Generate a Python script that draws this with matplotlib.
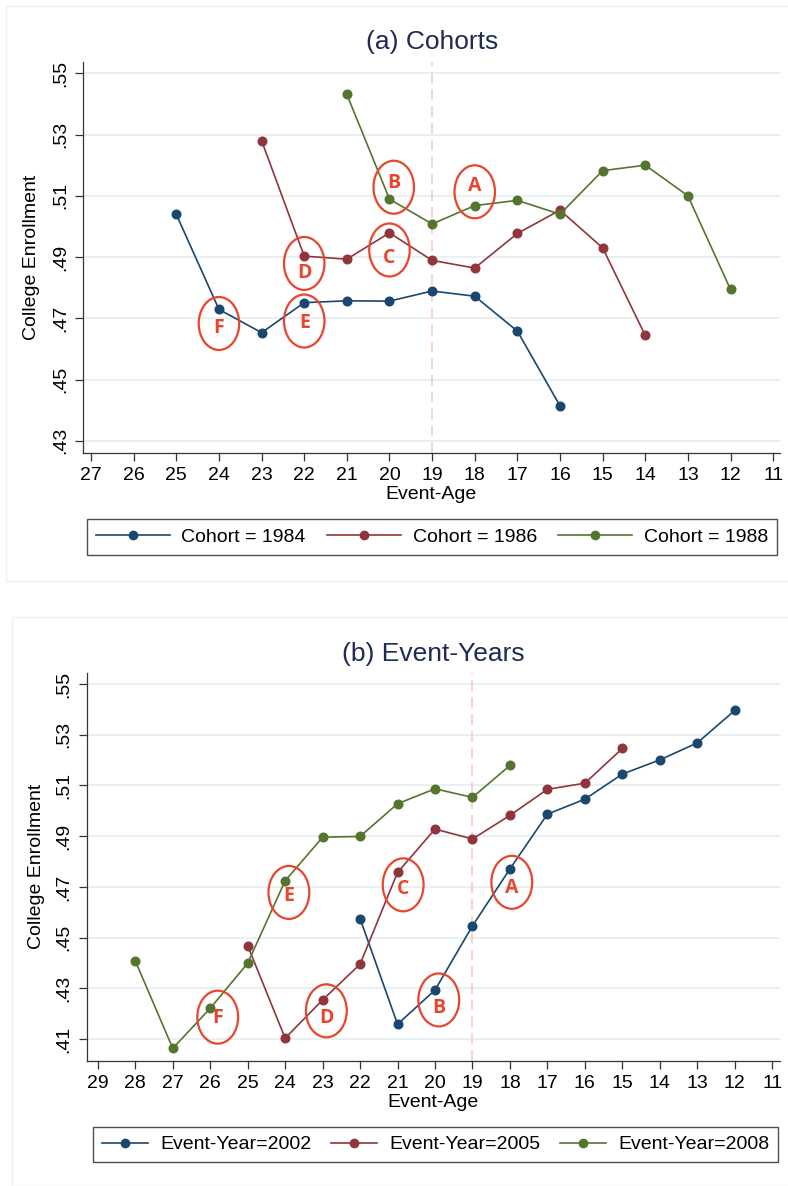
import matplotlib
matplotlib.use("Agg")
import matplotlib.pyplot as plt
from matplotlib.patches import Ellipse, Rectangle

plt.rcParams['font.family'] = ['Liberation Sans Narrow', 'Liberation Sans', 'DejaVu Sans']

# ---- panel (a): cohorts ----
ages_1984 = [25, 24, 23, 22, 21, 20, 19, 18, 17, 16]
enr_1984 = [.5039, .4729, .4653, .4751, .4757, .4756, .4789, .4772, .4658, .4414]
ages_1986 = [23, 22, 21, 20, 19, 18, 17, 16, 15, 14]
enr_1986 = [.5280, .4903, .4893, .4979, .4889, .4864, .4977, .5053, .4930, .4644]
ages_1988 = [21, 20, 19, 18, 17, 16, 15, 14, 13, 12]
enr_1988 = [.5431, .5089, .5008, .5068, .5085, .5040, .5182, .5200, .5100, .4794]

# ---- panel (b): event-years ----
ages_2002 = [22, 21, 20, 19, 18, 17, 16, 15, 14, 13, 12]
enr_2002 = [.4575, .4158, .4293, .4546, .4771, .4987, .5046, .5145, .5201, .5268, .5396]
ages_2005 = [25, 24, 23, 22, 21, 20, 19, 18, 17, 16, 15]
enr_2005 = [.4468, .4103, .4254, .4395, .4757, .4928, .4889, .4982, .5085, .5109, .5246]
ages_2008 = [28, 27, 26, 25, 24, 23, 22, 21, 20, 19, 18]
enr_2008 = [.4408, .4063, .4221, .4399, .4724, .4896, .4899, .5028, .5087, .5053, .5179]

# circled letters (label, x, y of ellipse centre, y of letter)
marks_a = [('A', 18.0, .5113, .5133), ('B', 19.9, .5128, .5141),
           ('C', 20.0, .4923, .4897), ('D', 22.0, .4879, .4848),
           ('E', 22.0, .4691, .4683), ('F', 24.0, .4683, .4668)]
marks_b = [('A', 17.95, .4718, .4697), ('B', 19.9, .4254, .4223),
           ('C', 20.85, .4708, .4690), ('D', 22.9, .4211, .4184),
           ('E', 23.9, .4678, .4663), ('F', 25.8, .4186, .4184)]

NAVY = '#1a476f'
MAROON = '#90353b'
GREEN = '#55752f'
RED = '#e8452f'
TITLE_COL = '#1f2a55'


def style_axes(ax, xticks, xlim, ylim, yticks):
    ax.set_xlim(*xlim)
    ax.set_ylim(*ylim)
    ax.set_xticks(xticks)
    ax.set_yticks(yticks)
    ax.set_yticklabels([('%.2f' % v)[1:] for v in yticks])
    for s in ['top', 'right']:
        ax.spines[s].set_visible(False)
    for s in ['left', 'bottom']:
        ax.spines[s].set_color('#333333')
        ax.spines[s].set_linewidth(0.9)
    ax.tick_params(axis='both', length=6, width=0.9, color='#333333',
                   labelsize=14, pad=4)
    ax.tick_params(axis='y', labelrotation=90)
    for lab in ax.get_yticklabels():
        lab.set_va('center')
    ax.grid(axis='y', color='#e6eff1', linewidth=1.3)
    ax.set_axisbelow(True)
    ax.axvline(19, color='#f6c4ca', linestyle=(0, (7, 4)), linewidth=1.1, zorder=1)
    ax.set_xlabel('Event-Age', fontsize=14, labelpad=2)
    ax.set_ylabel('College Enrollment', fontsize=14)


def add_marks(ax, marks, w, h):
    for lab, x, y, ty in marks:
        ax.add_patch(Ellipse((x, y), w, h, fill=False, edgecolor=RED,
                             linewidth=1.6, zorder=5))
        ax.text(x, ty, lab, color=RED, fontsize=14, fontweight='bold',
                family=['Open Sans', 'DejaVu Sans'], ha='center', va='center',
                zorder=6)


def draw_series(ax, x, y, color, label):
    ax.plot(x, y, color=color, linewidth=1.2, marker='o', markersize=6.2,
            label=label, zorder=3)


fig = plt.figure(figsize=(7.88, 11.86), dpi=100)

# faint panel frames
fig.add_artist(Rectangle((6 / 788, 1 - 581 / 1186), 790 / 788, 575 / 1186,
                         transform=fig.transFigure, fill=False,
                         edgecolor='#f0f0f0', linewidth=1))
fig.add_artist(Rectangle((12 / 788, 0), 790 / 788, 1 - 617 / 1186,
                         transform=fig.transFigure, fill=False,
                         edgecolor='#f0f0f0', linewidth=1))

ticks_y = [.43, .45, .47, .49, .51, .53, .55]
ax1 = fig.add_axes([0.1053, 0.6183, 0.8845, 0.3297])
draw_series(ax1, ages_1984, enr_1984, NAVY, 'Cohort = 1984')
draw_series(ax1, ages_1986, enr_1986, MAROON, 'Cohort = 1986')
draw_series(ax1, ages_1988, enr_1988, GREEN, 'Cohort = 1988')
style_axes(ax1, list(range(27, 10, -1)), (27.19, 10.84), (.4261, .5538), ticks_y)
ax1.yaxis.set_label_coords(-0.062, 0.5)
add_marks(ax1, marks_a, 0.95, .0173)
fig.text(432 / 788, 1 - 42 / 1186, '(a) Cohorts', ha='center', va='center',
         fontsize=19, color=TITLE_COL)

ticks_y2 = [.41, .43, .45, .47, .49, .51, .53, .55]
ax2 = fig.add_axes([0.1099, 0.1056, 0.880, 0.3272])
draw_series(ax2, ages_2002, enr_2002, NAVY, 'Event-Year=2002')
draw_series(ax2, ages_2005, enr_2005, MAROON, 'Event-Year=2005')
draw_series(ax2, ages_2008, enr_2008, GREEN, 'Event-Year=2008')
style_axes(ax2, list(range(29, 10, -1)), (29.3, 10.79), (.4014, .5545), ticks_y2)
ax2.yaxis.set_label_coords(-0.060, 0.5)
add_marks(ax2, marks_b, 1.09, .0209)
fig.text(433 / 788, 1 - 654 / 1186, '(b) Event-Years', ha='center', va='center',
         fontsize=19, color=TITLE_COL)

for ax, box, hl in [(ax1, (87, 518, 777, 556), 3.8), (ax2, (93, 1126, 778, 1163), 2.4)]:
    h, l = ax.get_legend_handles_labels()
    x0, y0, x1, y1 = box
    leg = fig.legend(h, l, loc='center', ncol=3, mode='expand',
                     bbox_to_anchor=(x0 / 788, 1 - y1 / 1186, (x1 - x0) / 788, (y1 - y0) / 1186),
                     fontsize=14, frameon=True, fancybox=False, borderaxespad=0,
                     handlelength=hl, handletextpad=0.6, borderpad=0.45)
    leg.get_frame().set_edgecolor('#222222')
    leg.get_frame().set_linewidth(1.0)
    for lh in leg.legend_handles:
        lh.set_markersize(6)

fig.savefig('out.png', dpi=100)
